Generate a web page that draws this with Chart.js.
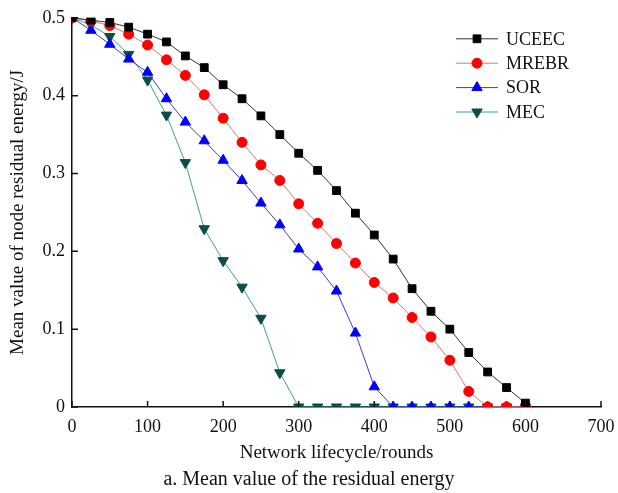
<!DOCTYPE html>
<html>
<head>
<meta charset="utf-8">
<script src="https://cdn.jsdelivr.net/npm/chart.js"></script>
<style>
  html, body { margin: 0; padding: 0; background: #fff; }
  #wrap { width: 618px; height: 493px; }
</style>
</head>
<body>
<div id="wrap"><canvas id="myChart" width="618" height="493"></canvas></div>
<script>
// rounds on the x axis
var rounds = [0, 25, 50, 75, 100, 125, 150, 175, 200, 225, 250, 275, 300,
              325, 350, 375, 400, 425, 450, 475, 500, 525, 550, 575, 600];

// mean residual energy (J) per protocol
var uceec = [0.5, 0.497, 0.494, 0.488, 0.479, 0.469, 0.451, 0.436, 0.414, 0.396, 0.374, 0.35, 0.326,
             0.304, 0.278, 0.249, 0.221, 0.19, 0.152, 0.123, 0.1, 0.07, 0.045, 0.025, 0.005];
var mrebr = [0.5, 0.496, 0.49, 0.479, 0.465, 0.446, 0.426, 0.401, 0.371, 0.34, 0.311, 0.291, 0.261,
             0.236, 0.21, 0.185, 0.16, 0.14, 0.115, 0.09, 0.06, 0.02, 0, 0, 0];
var sor   = [0.5, 0.484, 0.466, 0.447, 0.43, 0.396, 0.366, 0.342, 0.317, 0.291, 0.262, 0.234, 0.203,
             0.18, 0.149, 0.095, 0.026, 0, 0, 0, 0, 0, 0, 0, 0];
var mec   = [0.5, 0.491, 0.476, 0.453, 0.42, 0.375, 0.314, 0.229, 0.188, 0.154, 0.114, 0.044, 0,
             0, 0, 0, 0, 0, 0, 0, 0, 0, 0, 0, 0];

var seriesNames = ['UCEEC', 'MREBR', 'SOR', 'MEC'];
var xTicks = [0, 100, 200, 300, 400, 500, 600, 700];
var yTicks = [0, 0.1, 0.2, 0.3, 0.4, 0.5];

var serif = "'Liberation Serif', 'Times New Roman', serif";

function pts(vals) {
    return rounds.map(function(r, i) { return { x: r, y: vals[i] }; });
}

function makeSet(name, vals, line, fill, style, radius, rotation) {
    return {
        label: name,
        data: pts(vals),
        borderColor: line,
        borderWidth: 1,
        backgroundColor: fill,
        pointBackgroundColor: fill,
        pointBorderColor: fill,
        pointBorderWidth: 1,
        pointStyle: style,
        pointRadius: radius,
        pointRotation: rotation || 0,
        tension: 0,
        fill: false,
        clip: 0
    };
}

// legend drawn inside the plot, top right
var insideLegend = {
    id: 'insideLegend',
    afterDraw: function(chart) {
        var ctx = chart.ctx;
        var area = chart.chartArea;
        var x0 = area.right - 145;
        var y0 = area.top + 21;
        ctx.save();
        chart.data.datasets.forEach(function(ds, i) {
            var y = y0 + i * 24.4;
            ctx.strokeStyle = ds.borderColor;
            ctx.lineWidth = 1;
            ctx.beginPath();
            ctx.moveTo(x0, y);
            ctx.lineTo(x0 + 42, y);
            ctx.stroke();
            ctx.fillStyle = ds.pointBackgroundColor;
            ctx.strokeStyle = ds.pointBorderColor;
            Chart.helpers.drawPoint(ctx, {
                pointStyle: ds.pointStyle,
                radius: ds.pointRadius,
                rotation: ds.pointRotation,
                borderWidth: 1
            }, x0 + 21, y);
            ctx.fillStyle = '#111';
            ctx.font = '18px ' + serif;
            ctx.textAlign = 'left';
            ctx.textBaseline = 'middle';
            ctx.fillText(ds.label, x0 + 50, y + 1);
        });
        ctx.restore();
    }
};

// short tick marks pointing into the plot
var innerTicks = {
    id: 'innerTicks',
    afterDraw: function(chart) {
        var ctx = chart.ctx;
        var area = chart.chartArea;
        var xs = chart.scales.x, ys = chart.scales.y;
        ctx.save();
        ctx.strokeStyle = '#111';
        ctx.lineWidth = 1.5;
        ctx.beginPath();
        xTicks.forEach(function(v) {
            var px = xs.getPixelForValue(v);
            ctx.moveTo(px, area.bottom);
            ctx.lineTo(px, area.bottom - 6);
        });
        yTicks.forEach(function(v) {
            var py = ys.getPixelForValue(v);
            ctx.moveTo(area.left, py);
            ctx.lineTo(area.left + 6, py);
        });
        ctx.stroke();
        ctx.restore();
    }
};

var ctx = document.getElementById('myChart').getContext('2d');
var chart = new Chart(ctx, {
    type: 'line',
    data: {
        datasets: [
            makeSet(seriesNames[0], uceec, '#333333', '#000000', 'rect', 5.5),
            makeSet(seriesNames[1], mrebr, '#e07474', '#ff0000', 'circle', 5),
            makeSet(seriesNames[2], sor, '#3a3ad8', '#0000ff', 'triangle', 6),
            makeSet(seriesNames[3], mec, '#3f9e96', '#0b4d48', 'triangle', 6, 180)
        ]
    },
    options: {
        responsive: false,
        animation: false,
        layout: {
            padding: { left: 0, right: 0, top: 17, bottom: 1 }
        },
        plugins: {
            legend: { display: false },
            tooltip: { enabled: false },
            title: {
                display: true,
                position: 'bottom',
                text: 'a. Mean value of the residual energy',
                color: '#111',
                font: { family: serif, size: 20, weight: 'normal' },
                padding: { top: 3, bottom: 0 }
            }
        },
        scales: {
            x: {
                type: 'linear',
                min: 0,
                max: 700,
                afterFit: function(scale) {
                    scale.height = 58;
                    scale.paddingLeft = 0;
                    scale.paddingRight = 17;
                },
                afterBuildTicks: function(scale) {
                    scale.ticks = xTicks.map(function(v) { return { value: v }; });
                },
                grid: { display: false, drawTicks: false },
                border: { display: true, color: '#111', width: 1.5 },
                ticks: {
                    color: '#111',
                    padding: 9,
                    maxRotation: 0,
                    font: { family: serif, size: 18 }
                },
                title: {
                    display: true,
                    text: 'Network lifecycle/rounds',
                    color: '#111',
                    font: { family: serif, size: 19 },
                    padding: { top: 0, bottom: 1 }
                }
            },
            y: {
                min: 0,
                max: 0.5,
                afterFit: function(scale) { scale.width = 72; },
                afterBuildTicks: function(scale) {
                    scale.ticks = yTicks.map(function(v) { return { value: v }; });
                },
                grid: { display: false, drawTicks: false },
                border: { display: true, color: '#111', width: 1.5 },
                ticks: {
                    color: '#111',
                    padding: 7,
                    font: { family: serif, size: 18 },
                    callback: function(v) { return String(v); }
                },
                title: {
                    display: true,
                    text: 'Mean value of node residual energy/J',
                    color: '#111',
                    font: { family: serif, size: 19 },
                    padding: { top: 7, bottom: 0 }
                }
            }
        }
    },
    plugins: [insideLegend, innerTicks]
});
</script>
</body>
</html>
